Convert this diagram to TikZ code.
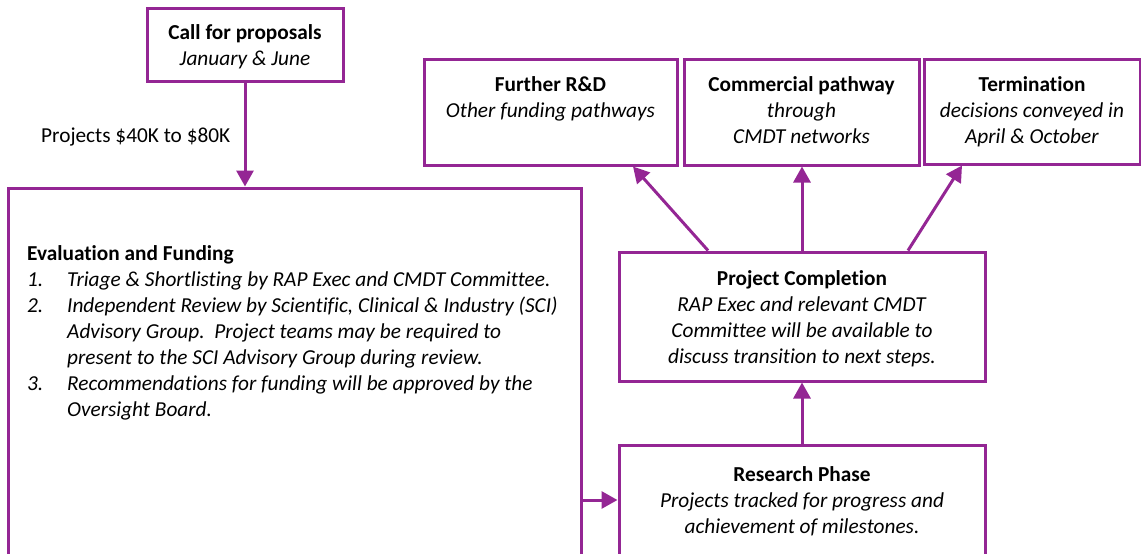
\documentclass[tikz,border=0pt]{standalone}
\usepackage{fontspec}
\setmainfont{Carlito}[Ligatures=NoCommon]
\usetikzlibrary{arrows.meta}
\definecolor{pp}{RGB}{148,38,148}
\newcommand{\fs}{\fontsize{21.3}{26}\selectfont}
\begin{document}
\begin{tikzpicture}[x=1pt,y=-1pt,
  box/.style={draw=pp, line width=3pt, inner sep=0pt},
  arr/.style={draw=pp, line width=3pt, -{Triangle[length=16pt,width=17pt]}},
  txt/.style={font=\fs, anchor=base, inner sep=0pt}]
\useasboundingbox (0,0) rectangle (1141,554);
\clip (0,0) rectangle (1141,554);
% boxes
\node[box, minimum width=196pt, minimum height=73pt] (call) at (245,44.5) {};
\node[box, minimum width=573pt, minimum height=383pt] (eval) at (294.5,379.5) {};
\node[box, minimum width=253pt, minimum height=106pt] (further) at (550.5,112) {};
\node[box, minimum width=235pt, minimum height=106pt] (comm) at (801.5,112) {};
\node[box, minimum width=216pt, minimum height=105pt] (term) at (1032,111.5) {};
\node[box, minimum width=366pt, minimum height=129pt] (compl) at (802,316.5) {};
\node[box, minimum width=366pt, minimum height=125pt] (research) at (802,507.5) {};
% texts
\node[txt] (callt) at (245,39) {\begin{tabular}[t]{@{}c@{}}\textbf{Call for proposals}\\\textit{January \& June}\end{tabular}};
\node[txt, anchor=base west] (proj) at (41,142) {Projects \$40K to \$80K};
\node[txt] (furthert) at (550.5,91.5) {\begin{tabular}[t]{@{}c@{}}\textbf{Further R\&D}\\\textit{Other funding pathways}\end{tabular}};
\node[txt] (commt) at (801.5,91.5) {\begin{tabular}[t]{@{}c@{}}\textbf{Commercial pathway}\\\textit{through}\\\textit{CMDT networks}\end{tabular}};
\node[txt] (termt) at (1032,91.5) {\begin{tabular}[t]{@{}c@{}}\textbf{Termination}\\\textit{decisions conveyed in}\\\textit{April \& October}\end{tabular}};
\node[txt] (complt) at (802,285.5) {\begin{tabular}[t]{@{}c@{}}\textbf{Project Completion}\\\textit{RAP Exec and relevant CMDT}\\\textit{Committee will be available to}\\\textit{discuss transition to next steps.}\end{tabular}};
\node[txt] (researcht) at (802,481.5) {\begin{tabular}[t]{@{}c@{}}\textbf{Research Phase}\\\textit{Projects tracked for progress and}\\\textit{achievement of milestones.}\end{tabular}};
\node[txt, anchor=base west] (evalt) at (27,260) {\begin{tabular}[t]{@{}p{40pt}@{}l@{}}
\multicolumn{2}{@{}l@{}}{\textbf{Evaluation and Funding}}\\
\textit{1.} & \textit{Triage \& Shortlisting by RAP Exec and CMDT Committee.}\\
\textit{2.} & \textit{Independent Review by Scientific, Clinical \& Industry (SCI)}\\
 & \textit{Advisory Group.\ \ Project teams may be required to}\\
 & \textit{present to the SCI Advisory Group during review.}\\
\textit{3.} & \textit{Recommendations for funding will be approved by the}\\
 & \textit{Oversight Board.}
\end{tabular}};
% connectors
\draw[arr] (call.south) -- (call.south |- eval.north);
\coordinate (rin) at ([yshift=7.5pt]research.west);
\draw[arr] (eval.east |- rin) -- (rin);
\draw[arr] (research.north) -- (compl.south);
\draw[arr] ([xshift=-94pt]compl.north) -- ([xshift=82.5pt]further.south);
\draw[arr] (compl.north) -- (compl.north |- comm.south);
\draw[arr] ([xshift=106pt]compl.north) -- ([xshift=-70pt]term.south);
\end{tikzpicture}
\end{document}
